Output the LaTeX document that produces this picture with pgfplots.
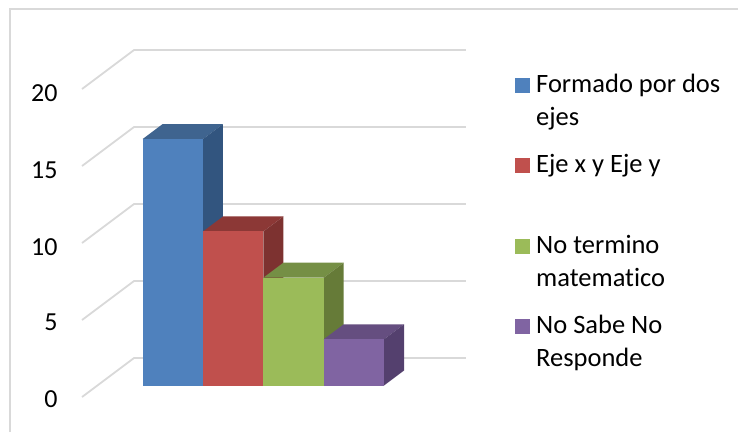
\documentclass[border=0pt]{standalone}
\usepackage{pgfplots}
\pgfplotsset{compat=1.18}
\usepackage{fontspec}
\setmainfont[Ligatures=NoCommon]{Carlito}
\definecolor{frameGray}{HTML}{D9D9D9}
\definecolor{blueF}{HTML}{4F81BD}\definecolor{blueT}{HTML}{3F648F}\definecolor{blueS}{HTML}{32557F}
\definecolor{redF}{HTML}{C0504D}\definecolor{redT}{HTML}{8C3836}\definecolor{redS}{HTML}{7D3230}
\definecolor{greenF}{HTML}{9BBB59}\definecolor{greenT}{HTML}{758F45}\definecolor{greenS}{HTML}{667B38}
\definecolor{purpleF}{HTML}{8064A2}\definecolor{purpleT}{HTML}{654E80}\definecolor{purpleS}{HTML}{54406E}
% one column: front, top and side faces, from its left edge, right edge and value
\newcommand{\column}[4]{%
  \addplot3[fill=#4T,draw=none] coordinates {(#1,0.295,#3) (#2,0.295,#3) (#2,0.68,#3) (#1,0.68,#3)} -- cycle;
  \addplot3[fill=#4S,draw=none] coordinates {(#2,0.295,0) (#2,0.68,0) (#2,0.68,#3) (#2,0.295,#3)} -- cycle;
  \addplot3[fill=#4F,draw=none] coordinates {(#1,0.295,0) (#2,0.295,0) (#2,0.295,#3) (#1,0.295,#3)} -- cycle;
}
% gridline along the side wall and the back wall at one value
\newcommand{\gridat}[1]{%
  \addplot3[frameGray,line width=1.8pt,line join=round] coordinates {(0,0,#1) (0,1,#1) (5.5,1,#1)};
}
\begin{document}
\begin{tikzpicture}[x=1pt,y=1pt]
\useasboundingbox (0,0) rectangle (738,432);
\draw[frameGray,line width=2pt] (9.5,0) -- (9.5,423) -- (738,423);
\begin{axis}[
  at={(82pt,35pt)},anchor=origin,
  x={(60.36pt,0pt)},y={(52pt,39pt)},z={(0pt,15.4pt)},
  xmin=0,xmax=5.5,ymin=0,ymax=1,zmin=0,zmax=20,
  clip=false,
  axis line style={draw=none},
  xtick=\empty,ytick=\empty,
  ztick={0,5,10,15,20},
  major tick length=0pt,
  zticklabel pos=left,
  tick label style={font=\fontsize{26}{30}\selectfont,xshift=-21pt,yshift=1.5pt},
  /pgf/number format/assume math mode=true,
]
\gridat{0}\gridat{5}\gridat{10}\gridat{15}\gridat{20}
\column{0.75}{1.75}{16}{blue}
\column{1.75}{2.75}{10}{red}
\column{2.75}{3.75}{7}{green}
\column{3.75}{4.75}{3}{purple}
\end{axis}
% legend keys and wrapped entries
\fill[blueF] (515,339) rectangle (530,354);
\fill[redF] (515,259) rectangle (530,274);
\fill[greenF] (515,178) rectangle (530,193);
\fill[purpleF] (515,98) rectangle (530,113);
\begin{scope}[every node/.style={anchor=base west,inner sep=0pt,font=\fontsize{26.5}{30}\selectfont}]
\node at (536,340) {Formado por dos};
\node at (536,306.3) {ejes};
\node at (536,259.3) {Eje x y Eje y};
\node at (536,179) {No termino};
\node at (536,145.3) {matematico};
\node at (536,99) {No Sabe No};
\node at (536,65.3) {Responde};
\end{scope}
\end{tikzpicture}
\end{document}
